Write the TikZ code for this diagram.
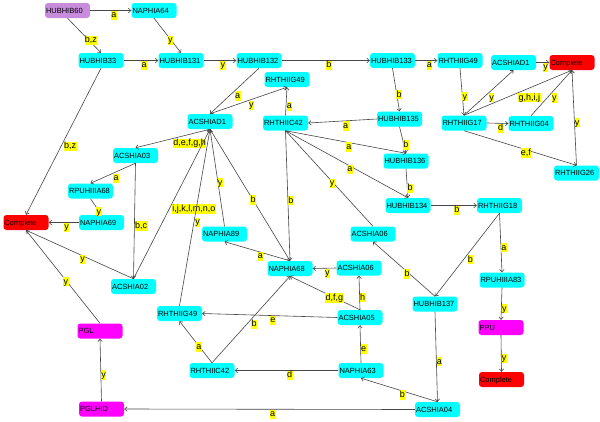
\documentclass[tikz,border=0pt]{standalone}
\usepackage{fontspec}
\setmainfont{Liberation Sans}
\usetikzlibrary{arrows.meta}
\definecolor{cyanN}{RGB}{0,255,255}
\definecolor{purpleN}{RGB}{200,140,220}
\definecolor{magN}{RGB}{255,0,255}
\definecolor{redN}{RGB}{255,0,0}
\definecolor{lineC}{RGB}{70,70,70}
\definecolor{lblC}{RGB}{255,255,0}
\tikzset{
 nd/.style={rectangle, rounded corners=3pt, minimum width=45pt, minimum height=15pt, text width=43pt, align=left, inner xsep=1pt, inner ysep=0pt, font=\fontsize{7.5}{8}\selectfont, text height=5.4pt, text depth=0pt},
 cy/.style={nd, fill=cyanN},
 rd/.style={nd, fill=redN},
 mg/.style={nd, fill=magN},
 pu/.style={nd, fill=purpleN},
 lbl/.style={anchor=north west, fill=lblC, inner sep=0.4pt, font=\fontsize{9}{10}\selectfont, text height=6.6pt, text depth=1.9pt},
 ed/.style={draw=lineC, line width=0.6pt, -{Straight Barb[length=2.5pt,width=4.5pt]}},
}
\begin{document}
\begin{tikzpicture}[x=1pt,y=-1pt]
\fill[white] (0,0) rectangle (600,421);
\useasboundingbox (0,0) rectangle (600,421);
% nodes
\node[pu] (hubhib60) at (67.5,10.5) {HUBHIB60};
\node[cy] (naphia64) at (154,10.5) {NAPHIA64};
\node[cy] (hubhib33) at (101,60.5) {HUBHIB33};
\node[cy] (hubhib131) at (181,60.5) {HUBHIB131};
\node[cy] (hubhib132) at (259,60.5) {HUBHIB132};
\node[cy] (hubhib133) at (392.5,60.5) {HUBHIB133};
\node[cy] (rhthiig49a) at (460,60.5) {RHTHIIG49};
\node[cy] (acshiad1r) at (513.5,62.5) {ACSHIAD1};
\node[rd] (complete1) at (572,62.5) {Complete};
\node[cy] (rhthiig49b) at (287,79.5) {RHTHIIG49};
\node[cy] (acshiad1) at (210,121.5) {ACSHIAD1};
\node[cy] (rhthiic42a) at (285.5,123) {RHTHIIC42};
\node[cy] (hubhib135) at (399.5,119) {HUBHIB135};
\node[cy] (rhthiig17) at (464,123) {RHTHIIG17};
\node[cy] (rhthiig04) at (531,123.5) {RHTHIIG04};
\node[cy] (acshia03) at (135.5,155.5) {ACSHIA03};
\node[cy] (hubhib136) at (406,161) {HUBHIB136};
\node[cy] (rhthiig26) at (576.5,173) {RHTHIIG26};
\node[cy] (rpuhiiia68) at (90.5,191) {RPUHIIIA68};
\node[cy] (hubhib134) at (408,205.5) {HUBHIB134};
\node[cy] (rhthiig18) at (499.5,205.5) {RHTHIIG18};
\node[rd] (complete2) at (26,222.5) {Complete};
\node[cy] (naphia69) at (101.5,222.5) {NAPHIA69};
\node[cy] (naphia89) at (224.5,234) {NAPHIA89};
\node[cy] (acshia06a) at (373,234) {ACSHIA06};
\node[cy] (acshia06b) at (359,268) {ACSHIA06};
\node[cy] (naphia68) at (290,268.5) {NAPHIA68};
\node[cy] (acshia02) at (133.5,286.5) {ACSHIA02};
\node[cy] (hubhib137) at (435,304) {HUBHIB137};
\node[cy] (rpuhiiia83) at (502,280) {RPUHIIIA83};
\node[cy] (acshia05) at (360,317.5) {ACSHIA05};
\node[cy] (rhthiig49c) at (179.5,313.5) {RHTHIIG49};
\node[mg] (pgl) at (100,331) {PGL};
\node[mg] (ppu) at (501,327.5) {PPU};
\node[cy] (rhthiic42b) at (212,370.5) {RHTHIIC42};
\node[cy] (naphia63) at (361,370.5) {NAPHIA63};
\node[rd] (complete3) at (501.5,379.5) {Complete};
\node[mg] (pglhid) at (101.5,409) {PGLHID};
\node[cy] (acshia04) at (437.5,409.5) {ACSHIA04};
% edges
\draw[ed] (hubhib60.east) -- node[lbl]{a} (naphia64.west);
\draw[ed] (hubhib60.south) -- node[lbl]{b,z} (hubhib33.north);
\draw[ed] (naphia64.south) -- node[lbl]{y} (hubhib131.north);
\draw[ed] (hubhib33.east) -- node[lbl]{a} (hubhib131.west);
\draw[ed] (hubhib131.east) -- node[lbl]{y} (hubhib132.west);
\draw[ed] (hubhib132.east) -- node[lbl]{b} (hubhib133.west);
\draw[ed] (hubhib133.east) -- node[lbl]{a} (rhthiig49a.west);
\draw[ed] (hubhib133.south) -- node[lbl]{b} (hubhib135.north);
\draw[ed] (hubhib132.south) -- node[lbl]{a} (acshiad1.north);
\draw[ed] (acshiad1.north) -- node[lbl]{y} (rhthiig49b.south);
\draw[ed] (rhthiic42a.north) -- node[lbl]{a} (rhthiig49b.south);
\draw[ed] (hubhib135.west) -- node[lbl]{a} (rhthiic42a.east);
\draw[ed] (hubhib135.south) -- node[lbl]{b} (hubhib136.north);
\draw[ed] (rhthiic42a.south) -- node[lbl]{a} (hubhib136.north);
\draw[ed] (rhthiic42a.south) -- node[lbl]{a} (hubhib134.north);
\draw[ed] (hubhib136.south) -- node[lbl]{b} (hubhib134.north);
\draw[ed] (acshia06a.north) -- node[lbl]{y} (rhthiic42a.south);
\draw[ed] (rhthiic42a.south) -- node[lbl]{b} (naphia68.north);
\draw[ed] (acshiad1.south) -- node[lbl]{b} (naphia68.north);
\draw[ed] (acshiad1.south) -- node[lbl]{d,e,f,g,h} (acshia03.north);
\draw[ed] (acshia02.north) -- node[lbl]{i,j,k,l,m,n,o} (acshiad1.south);
\draw[ed] (rhthiig49c.north) -- node[lbl]{y} (acshiad1.south);
\draw[ed] (naphia89.north) -- node[lbl]{y} (acshiad1.south);
\draw[ed] (naphia68.north) -- node[lbl]{a} (naphia89.south);
\draw[ed] (acshia06b.west) -- node[lbl]{y} (naphia68.east);
\draw[ed] (acshia05.north) -- node[lbl]{h} (acshia06b.south);
\draw[ed] (acshia05.north) -- node[lbl]{d,f,g} (naphia68.south);
\draw[ed] (acshia05.west) -- node[lbl]{e} (rhthiig49c.east);
\draw[ed] (rhthiic42b.north) -- node[lbl]{b} (naphia68.south);
\draw[ed] (rhthiic42b.north) -- node[lbl]{a} (rhthiig49c.south);
\draw[ed] (naphia63.west) -- node[lbl]{d} (rhthiic42b.east);
\draw[ed] (naphia63.north) -- node[lbl]{e} (acshia05.south);
\draw[ed] (acshia04.north) -- node[lbl]{b} (naphia63.south);
\draw[ed] (acshia04.west) -- node[lbl]{a} (pglhid.east);
\draw[ed] (pglhid.north) -- node[lbl]{y} (pgl.south);
\draw[ed] (pgl.north) -- node[lbl]{y} (complete2.south);
\draw[ed] (acshia02.north) -- node[lbl]{y} (complete2.south);
\draw[ed] (hubhib33.south) -- node[lbl]{b,z} (complete2.north);
\draw[ed] (naphia69.west) -- node[lbl]{y} (complete2.east);
\draw[ed] (rpuhiiia68.south) -- node[lbl]{y} (naphia69.north);
\draw[ed] (acshia03.south) -- node[lbl]{a} (rpuhiiia68.north);
\draw[ed] (acshia03.south) -- node[lbl]{b,c} (acshia02.north);
\draw[ed] (rhthiig49a.south) -- node[lbl]{y} (rhthiig17.north);
\draw[ed] (rhthiig17.north) -- node[lbl]{y} (acshiad1r.south);
\draw[ed] (rhthiig17.north) -- node[lbl]{g,h,i,j} (complete1.south);
\draw[ed] (rhthiig04.north) -- node[lbl]{y} (complete1.south);
\draw[ed] (rhthiig26.north) -- node[lbl]{y} (complete1.south);
\draw[ed] (acshiad1r.east) -- node[lbl]{y} (complete1.west);
\draw[ed] (rhthiig17.east) -- node[lbl]{d} (rhthiig04.west);
\draw[ed] (rhthiig17.south) -- node[lbl]{e,f} (rhthiig26.north);
\draw[ed] (hubhib134.east) -- node[lbl]{b} (rhthiig18.west);
\draw[ed] (rhthiig18.south) -- node[lbl]{a} (rpuhiiia83.north);
\draw[ed] (rhthiig18.south) -- node[lbl]{b} (hubhib137.north);
\draw[ed] (hubhib137.north) -- node[lbl]{b} (acshia06a.south);
\draw[ed] (hubhib137.south) -- node[lbl]{a} (acshia04.north);
\draw[ed] (rpuhiiia83.south) -- node[lbl]{y} (ppu.north);
\draw[ed] (ppu.south) -- node[lbl]{y} (complete3.north);
\end{tikzpicture}
\end{document}
